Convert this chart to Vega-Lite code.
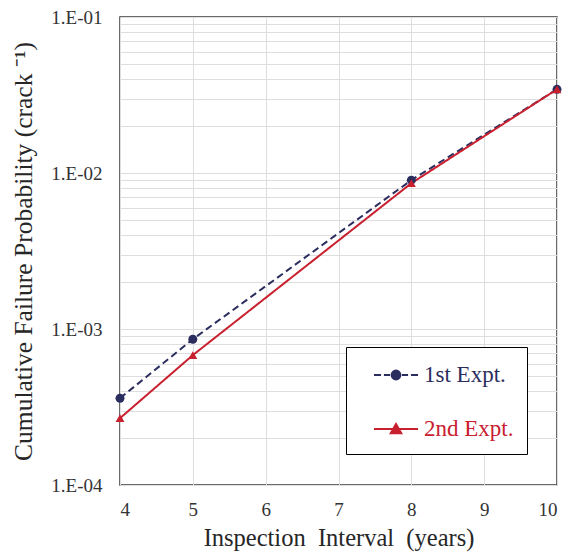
{
  "$schema": "https://vega.github.io/schema/vega-lite/v6.json",
  "width": 437,
  "height": 468,
  "autosize": "none",
  "padding": {"left": 120, "top": 17, "right": 12, "bottom": 69},
  "background": "white",
  "config": {
    "font": "Liberation Serif",
    "view": {"stroke": "#3a3a3a", "strokeWidth": 1.5},
    "axis": {
      "domain": false,
      "ticks": false,
      "grid": true,
      "gridColor": "#dedede",
      "gridWidth": 1,
      "labelFont": "Liberation Serif",
      "labelFontSize": 19,
      "labelColor": "#333333",
      "titleFont": "Liberation Serif",
      "titleFontWeight": "normal",
      "titleColor": "#262626"
    }
  },
  "data": {
    "values": [
      {"interval": 4, "prob": 0.00036, "series": "1st Expt."},
      {"interval": 5, "prob": 0.00086, "series": "1st Expt."},
      {"interval": 8, "prob": 0.0090, "series": "1st Expt."},
      {"interval": 10, "prob": 0.0344, "series": "1st Expt."},
      {"interval": 4, "prob": 0.000268, "series": "2nd Expt."},
      {"interval": 5, "prob": 0.00068, "series": "2nd Expt."},
      {"interval": 8, "prob": 0.0086, "series": "2nd Expt."},
      {"interval": 10, "prob": 0.0344, "series": "2nd Expt."}
    ]
  },
  "encoding": {
    "x": {
      "field": "interval",
      "type": "quantitative",
      "scale": {"domain": [4, 10], "nice": false, "zero": false},
      "axis": {
        "values": [4, 5, 6, 7, 8, 9, 10],
        "title": "Inspection\u00a0\u00a0Interval\u00a0\u00a0(years)",
        "titleFontSize": 24.5,
        "labelPadding": 15,
        "titlePadding": 7
      }
    },
    "y": {
      "field": "prob",
      "type": "quantitative",
      "scale": {"type": "log", "domain": [0.0001, 0.1], "nice": false},
      "axis": {
        "values": [0.0001, 0.0002, 0.0003, 0.0004, 0.0005, 0.0006, 0.0007, 0.0008, 0.0009, 0.001, 0.002, 0.003, 0.004, 0.005, 0.006, 0.007, 0.008, 0.009, 0.01, 0.02, 0.03, 0.04, 0.05, 0.06, 0.07, 0.08, 0.09, 0.1],
        "labelExpr": "abs(log(datum.value)/LN10 - round(log(datum.value)/LN10)) < 0.001 ? '1.E-0' + (-round(log(datum.value)/LN10)) : ''",
        "labelOverlap": false,
        "labelPadding": 18,
        "title": "Cumulative Failure Probability (crack ⁻¹)",
        "titleFontSize": 25.5,
        "titlePadding": 14
      }
    },
    "color": {
      "field": "series",
      "type": "nominal",
      "scale": {"domain": ["1st Expt.", "2nd Expt."], "range": ["#2b2d5e", "#c8202f"]},
      "legend": {
        "title": null,
        "orient": "none",
        "legendX": 226,
        "legendY": 330,
        "direction": "vertical",
        "strokeColor": "#000000",
        "fillColor": "white",
        "padding": 13,
        "symbolOffset": 22,
        "symbolSize": 784,
        "symbolStrokeWidth": 2,
        "labelFontSize": 23,
        "labelFont": "Liberation Serif",
        "labelOffset": 13,
        "rowPadding": 27,
        "labelExpr": "datum.label + '\u00a0\u00a0\u00a0'",
        "encode": {
          "symbols": {
            "update": {
              "shape": {"signal": "datum.value == '1st Expt.' ? 'M-1.571,0H-1.069M-0.864,0H-0.424M0.424,0H0.864M1.069,0H1.571M-0.314,0A0.314,0.314 0 1,0 0.314,0A0.314,0.314 0 1,0 -0.314,0Z' : 'M-1.571,0H1.571M0,-0.361L0.377,0.3L-0.377,0.3Z'"},
              "fill": {"signal": "datum.value == '1st Expt.' ? '#2b2d5e' : '#c8202f'"},
              "stroke": {"signal": "datum.value == '1st Expt.' ? '#2b2d5e' : '#c8202f'"},
              "opacity": {"value": 1},
              "fillOpacity": {"value": 1}
            }
          },
          "labels": {
            "update": {
              "fill": {"signal": "datum.value == '1st Expt.' ? '#2b2d5e' : '#c8202f'"}
            }
          }
        }
      }
    }
  },
  "layer": [
    {
      "mark": {"type": "line", "strokeWidth": 2},
      "encoding": {
        "strokeDash": {
          "condition": {"test": "datum.series == '1st Expt.'", "value": [7, 4]},
          "value": [1, 0]
        }
      }
    },
    {
      "mark": {"type": "point", "filled": true, "opacity": 1, "size": 80},
      "encoding": {
        "shape": {
          "condition": {"test": "datum.series == '1st Expt.'", "value": "circle"},
          "value": "triangle-up"
        }
      }
    }
  ]
}
